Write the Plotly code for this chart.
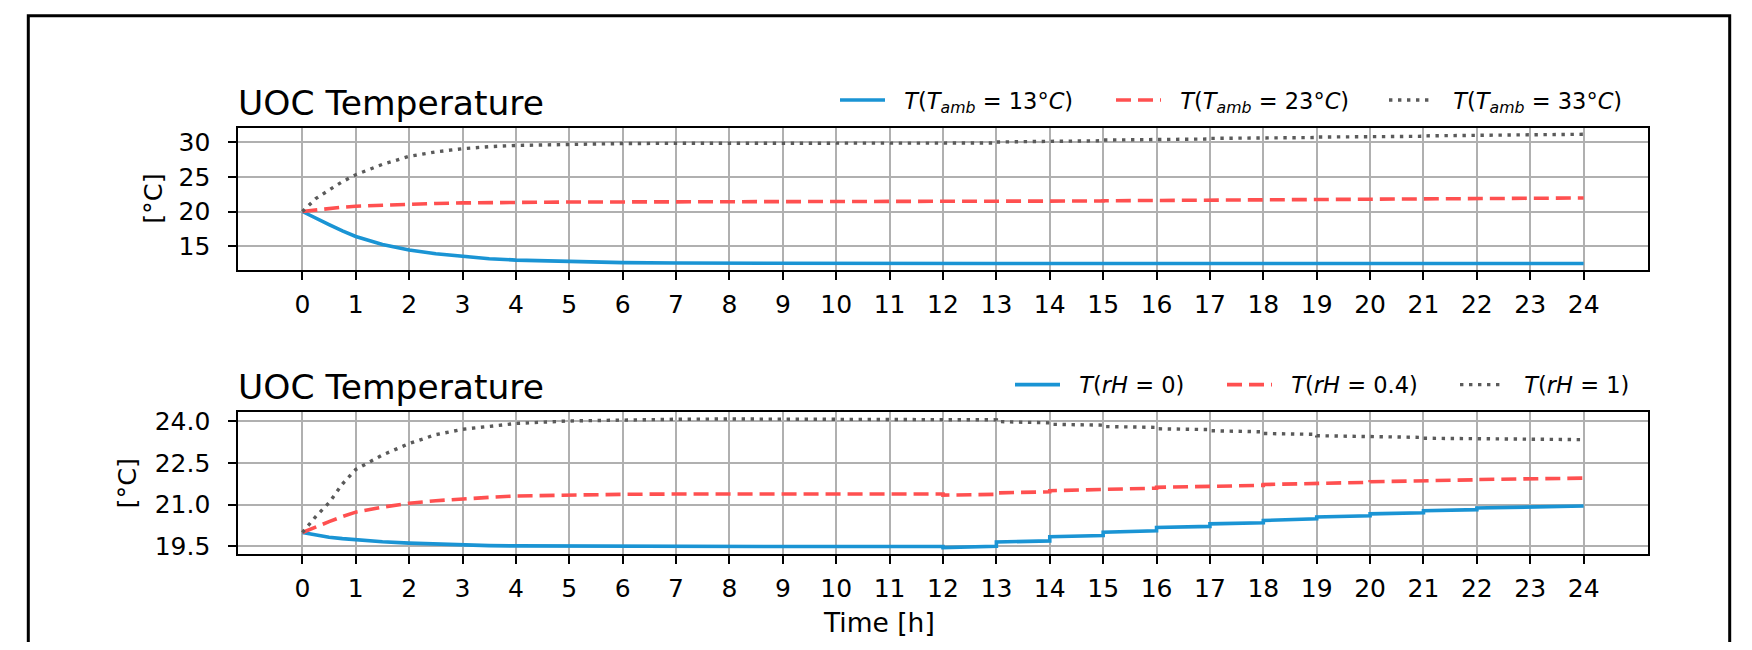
import plotly.graph_objects as go

# page is 1752x650; the html body keeps its default 8px margin, so the figure is 16px smaller
PAGE_W, PAGE_H = 1752, 650
OFF = 8
W, H = PAGE_W - 2 * OFF, PAGE_H - 2 * OFF

# ---------------- data ----------------
# smooth part of all curves (hours 0..11)
T_SMOOTH = [0, 0.25, 0.5, 0.75, 1, 1.5, 2, 2.5, 3, 3.5, 4, 5, 6, 7, 8, 9, 10, 11]
# hourly switching part (value just before / just after each hour), then final value at 24 h
STEP_HOURS = [12, 13, 14, 15, 16, 17, 18, 19, 20, 21, 22, 23]
T_END = 24

# top panel: ambient temperature variation
amb13_smooth = [20.0, 19.0, 18.1, 17.2, 16.4, 15.25, 14.45, 13.9, 13.5, 13.2, 13.0, 12.75, 12.63, 12.57, 12.54, 12.52, 12.51, 12.5]
amb13_before = [12.5] * 12
amb13_after = [12.5] * 12
amb13_end = 12.5

amb23_smooth = [20.0, 20.25, 20.45, 20.62, 20.76, 20.93, 21.05, 21.16, 21.24, 21.3, 21.33, 21.37, 21.38, 21.39, 21.39, 21.39, 21.39, 21.39]
amb23_before = [21.39, 21.39, 21.45, 21.52, 21.58, 21.63, 21.68, 21.72, 21.77, 21.81, 21.85, 21.89]
amb23_after = [21.39, 21.42, 21.49, 21.55, 21.61, 21.66, 21.70, 21.75, 21.79, 21.83, 21.87, 21.91]
amb23_end = 21.95

amb33_smooth = [20.0, 21.85, 23.1, 24.3, 25.3, 26.8, 27.95, 28.6, 29.05, 29.35, 29.52, 29.72, 29.8, 29.83, 29.85, 29.85, 29.85, 29.85]
amb33_before = [29.85, 29.87, 30.06, 30.20, 30.33, 30.45, 30.56, 30.66, 30.75, 30.84, 30.92, 31.00]
amb33_after = [29.85, 30.02, 30.18, 30.30, 30.43, 30.54, 30.64, 30.73, 30.82, 30.90, 30.98, 31.06]
amb33_end = 31.13

# bottom panel: relative humidity variation
rh0_smooth = [20.0, 19.9, 19.83, 19.78, 19.74, 19.67, 19.62, 19.58, 19.55, 19.53, 19.52, 19.51, 19.5, 19.5, 19.5, 19.5, 19.5, 19.5]
rh0_before = [19.50, 19.51, 19.70, 19.89, 20.06, 20.22, 20.35, 20.49, 20.60, 20.71, 20.82, 20.90]
rh0_after = [19.46, 19.66, 19.85, 20.01, 20.18, 20.31, 20.43, 20.56, 20.67, 20.78, 20.88, 20.93]
rh0_end = 20.95

rh04_smooth = [20.0, 20.21, 20.39, 20.57, 20.73, 20.91, 21.05, 21.14, 21.21, 21.26, 21.31, 21.35, 21.37, 21.38, 21.38, 21.38, 21.38, 21.38]
rh04_before = [21.38, 21.37, 21.46, 21.53, 21.59, 21.65, 21.69, 21.75, 21.80, 21.84, 21.89, 21.92]
rh04_after = [21.34, 21.42, 21.50, 21.56, 21.62, 21.67, 21.72, 21.77, 21.82, 21.86, 21.90, 21.93]
rh04_end = 21.95

rh1_smooth = [20.0, 20.57, 21.07, 21.74, 22.26, 22.78, 23.19, 23.51, 23.70, 23.82, 23.91, 24.0, 24.04, 24.06, 24.07, 24.07, 24.07, 24.07]
rh1_before = [24.06, 24.04, 23.93, 23.85, 23.77, 23.69, 23.61, 23.52, 23.45, 23.41, 23.37, 23.35]
rh1_after = [24.05, 23.98, 23.88, 23.80, 23.72, 23.65, 23.55, 23.47, 23.42, 23.38, 23.36, 23.34]
rh1_end = 23.33

X_TICKS = list(range(0, 25))
TOP_YTICKS = [15, 20, 25, 30]
BOT_YTICKS = [19.5, 21.0, 22.5, 24.0]

TOP_NAMES = ["<i>T</i>(<i>T</i><sub><i>amb</i></sub> = 13°<i>C</i>)",
             "<i>T</i>(<i>T</i><sub><i>amb</i></sub> = 23°<i>C</i>)",
             "<i>T</i>(<i>T</i><sub><i>amb</i></sub> = 33°<i>C</i>)"]
BOT_NAMES = ["<i>T</i>(<i>rH</i> = 0)", "<i>T</i>(<i>rH</i> = 0.4)", "<i>T</i>(<i>rH</i> = 1)"]
TITLE = "UOC Temperature"
YLABEL = "[°C]"
XLABEL = "Time [h]"


def build(smooth, before, after, end):
    xs = list(T_SMOOTH)
    ys = list(smooth)
    for h, b, a in zip(STEP_HOURS, before, after):
        xs += [h, h]
        ys += [b, a]
    xs.append(T_END)
    ys.append(end)
    return xs, ys


FONT = "DejaVu Sans"
BLUE = "#1a94d4"
RED = "#ff5050"
GREY = "#5a5a5a"
styles = [dict(color=BLUE, width=3.6, dash="solid"),
          dict(color=RED, width=3.6, dash="15px,7px"),
          dict(color=GREY, width=3.4, dash="3.4px,5.6px")]

top_series = [(amb13_smooth, amb13_before, amb13_after, amb13_end),
              (amb23_smooth, amb23_before, amb23_after, amb23_end),
              (amb33_smooth, amb33_before, amb33_after, amb33_end)]
bot_series = [(rh0_smooth, rh0_before, rh0_after, rh0_end),
              (rh04_smooth, rh04_before, rh04_after, rh04_end),
              (rh1_smooth, rh1_before, rh1_after, rh1_end)]

PAD = "\u00a0\u00a0"  # gap between legend sample and legend text

fig = go.Figure()
legend_ids = ["legend", "legend2", "legend3", "legend4", "legend5", "legend6"]
for i, (s, name) in enumerate(zip(top_series, TOP_NAMES)):
    x, y = build(*s)
    fig.add_trace(go.Scatter(x=x, y=y, mode="lines", name=PAD + name, line=styles[i],
                             xaxis="x", yaxis="y", legend=legend_ids[i], showlegend=True))
for i, (s, name) in enumerate(zip(bot_series, BOT_NAMES)):
    x, y = build(*s)
    fig.add_trace(go.Scatter(x=x, y=y, mode="lines", name=PAD + name, line=styles[i],
                             xaxis="x2", yaxis="y2", legend=legend_ids[3 + i], showlegend=True))

# target positions in page pixels
X0, X1 = 238.3, 1647.7
TOP_T, TOP_B = 127.7, 270.0
BOT_T, BOT_B = 412.3, 554.0


def px(x):
    return (x - OFF) / W


def py(y):
    return 1 - (y - OFF) / H


axis_common = dict(showline=True, linecolor="black", linewidth=2, mirror=True,
                   ticks="outside", ticklen=8, tickwidth=2, tickcolor="black",
                   showgrid=True, gridcolor="#b0b0b0", gridwidth=2, zeroline=False,
                   tickfont=dict(family=FONT, size=25, color="black"))

fig.update_layout(
    width=W, height=H,
    showlegend=True,
    margin=dict(l=0, r=0, t=0, b=0, autoexpand=False),
    paper_bgcolor="white", plot_bgcolor="white",
    font=dict(family=FONT, color="black"),
    xaxis=dict(domain=[px(X0), px(X1)], anchor="y", range=[-1.2, 25.2],
               tickvals=X_TICKS, ticklabelstandoff=3, **axis_common),
    yaxis=dict(domain=[py(TOP_B), py(TOP_T)], anchor="x", range=[11.57, 32.08],
               tickvals=TOP_YTICKS, ticklabelstandoff=13, **axis_common),
    xaxis2=dict(domain=[px(X0), px(X1)], anchor="y2", range=[-1.2, 25.2],
                tickvals=X_TICKS, ticklabelstandoff=3, **axis_common),
    yaxis2=dict(domain=[py(BOT_B), py(BOT_T)], anchor="x2", range=[19.23, 24.31],
                tickvals=BOT_YTICKS, tickformat=".1f", ticklabelstandoff=13, **axis_common),
)

# legends, one per entry, placed like the reference (by start of the entry text)
ITEM_W = 45
top_text_starts = [906, 1182, 1455]
bot_text_starts = [1081, 1293, 1526]
for i, lid in enumerate(legend_ids):
    ts = top_text_starts[i] if i < 3 else bot_text_starts[i - 3]
    yc = 100.3 if i < 3 else 385.0
    fig.update_layout({lid: dict(x=px(ts - 71), y=py(yc), xanchor="left", yanchor="middle",
                                 orientation="h", bgcolor="rgba(0,0,0,0)", borderwidth=0,
                                 itemwidth=ITEM_W, visible=True,
                                 font=dict(family=FONT, size=22.5, color="black"))})

annotations = [
    dict(text=TITLE, x=px(X0 - 2), y=py(103), xanchor="left", yanchor="middle", showarrow=False,
         font=dict(family=FONT, size=34.5, color="black")),
    dict(text=TITLE, x=px(X0 - 2), y=py(387), xanchor="left", yanchor="middle", showarrow=False,
         font=dict(family=FONT, size=34.5, color="black")),
    dict(text=YLABEL, x=px(153), y=py((TOP_T + TOP_B) / 2), xanchor="center", yanchor="middle",
         textangle=-90, showarrow=False, font=dict(family=FONT, size=25.5, color="black")),
    dict(text=YLABEL, x=px(127.3), y=py((BOT_T + BOT_B) / 2), xanchor="center", yanchor="middle",
         textangle=-90, showarrow=False, font=dict(family=FONT, size=25.5, color="black")),
    dict(text=XLABEL, x=px(879), y=py(622.7), xanchor="center", yanchor="middle", showarrow=False,
         font=dict(family=FONT, size=26.5, color="black")),
]
for a in annotations:
    a.update(xref="paper", yref="paper")
fig.update_layout(annotations=annotations)

fig.add_shape(type="rect", xref="paper", yref="paper",
              x0=px(28.3), x1=px(1729.7), y0=-0.2, y1=py(15.7),
              line=dict(color="black", width=3), fillcolor="rgba(0,0,0,0)")

fig.write_html("out.html")
